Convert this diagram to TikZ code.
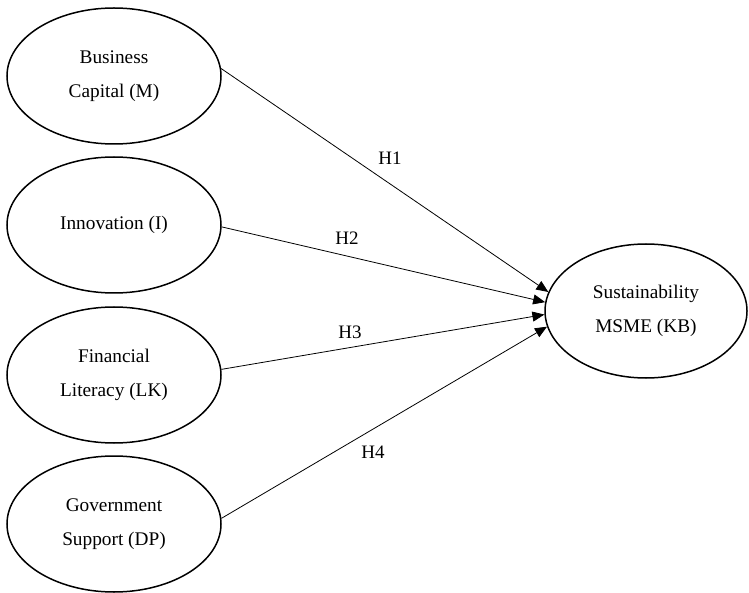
\documentclass[tikz,border=0pt]{standalone}
\usepackage{fontspec}
\setmainfont{Liberation Serif}
\usetikzlibrary{shapes.geometric,arrows.meta}
\begin{document}
\begin{tikzpicture}[x=1pt,y=-1pt,
  construct/.style={ellipse,draw,line width=1.5pt,inner sep=0pt,
    minimum width=214pt,minimum height=136pt,align=center,
    font=\fontsize{19.3}{33.5}\selectfont},
  path/.style={draw,line width=0.8pt,-{Triangle[length=12pt,width=10pt]}},
  hlabel/.style={font=\fontsize{19}{20}\selectfont,inner sep=0pt}]
\useasboundingbox (0,0) rectangle (749,593);
\node[construct] (m) at (114,76) {Business\\Capital (M)};
\node[construct] (i) at (114,225) {Innovation (I)};
\node[construct] (lk) at (114,375) {Financial\\Literacy (LK)};
\node[construct] (dp) at (114,524) {Government\\Support (DP)};
\node[construct,minimum width=202pt,minimum height=134pt] (kb) at (646,311) {Sustainability\\MSME (KB)};
\draw[path] (m.4) -- (kb.169);
\draw[path] (i.-1) -- (kb.175);
\draw[path] (lk.3) -- (kb.182);
\draw[path] (dp.3) -- (kb.189);
\node[hlabel] (h1) at (390,158) {H1};
\node[hlabel] (h2) at (347,238) {H2};
\node[hlabel] (h3) at (350,332) {H3};
\node[hlabel] (h4) at (373,452) {H4};
\end{tikzpicture}
\end{document}
